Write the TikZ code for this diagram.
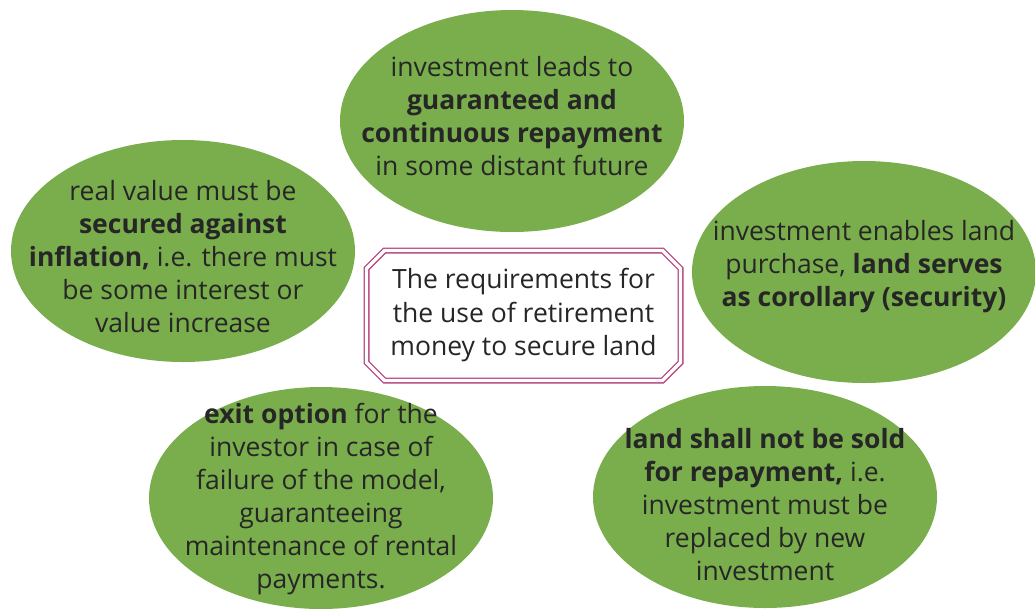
\documentclass[tikz,border=0pt]{standalone}
\usepackage{fontspec}
\setmainfont{Open Sans}
\usetikzlibrary{shapes.geometric,shapes.misc}
\definecolor{leaf}{HTML}{7AAE4D}
\definecolor{ink}{HTML}{262626}
\definecolor{rose}{HTML}{B4437C}
\tikzset{
  bubble/.style={ellipse, fill=leaf, minimum width=344pt, minimum height=222pt, inner sep=0pt},
  btext/.style={align=center, text=ink, font=\fontsize{26.5}{33}\selectfont},
  hub/.style={chamfered rectangle, chamfered rectangle xsep=9pt, chamfered rectangle ysep=9pt,
    draw=rose, line width=1.3pt, double=white, double distance=3.4pt,
    minimum width=314pt, minimum height=130pt, inner sep=0pt,
    align=center, text=ink, font=\fontsize{26.5}{33.5}\selectfont}
}
\begin{document}
\begin{tikzpicture}[x=1pt,y=-1pt]
\useasboundingbox (0,0) rectangle (1035,608);
\node[bubble] (top) at (512,121) {};
\node[btext] (toptext) at (512,116) {investment leads to\\\textbf{guaranteed and}\\\textbf{continuous repayment}\\in some distant future};
\node[bubble] (left) at (183,251) {};
\node[btext] (lefttext) at (183,257) {real value must be\\\textbf{secured against}\\\textbf{inflation,} i.e. there must\\be some interest or\\value increase};
\node[bubble] (right) at (864,272) {};
\node[btext] (righttext) at (864,267) {investment enables land\\purchase, \textbf{land serves}\\\textbf{as corollary (security)}};
\node[bubble] (bl) at (321,498) {};
\node[btext] (bltext) at (321,499) {\textbf{exit option} for the\\investor in case of\\failure of the model,\\guaranteeing\\maintenance of rental\\payments.};
\node[bubble] (br) at (765,497) {};
\node[btext] (brtext) at (765,505) {\textbf{land shall not be sold}\\\textbf{for repayment,} i.e.\\investment must be\\replaced by new\\investment};
\node[hub] (hub) at (523.5,315.5) {The requirements for\\the use of retirement\\money to secure land};
\end{tikzpicture}
\end{document}
